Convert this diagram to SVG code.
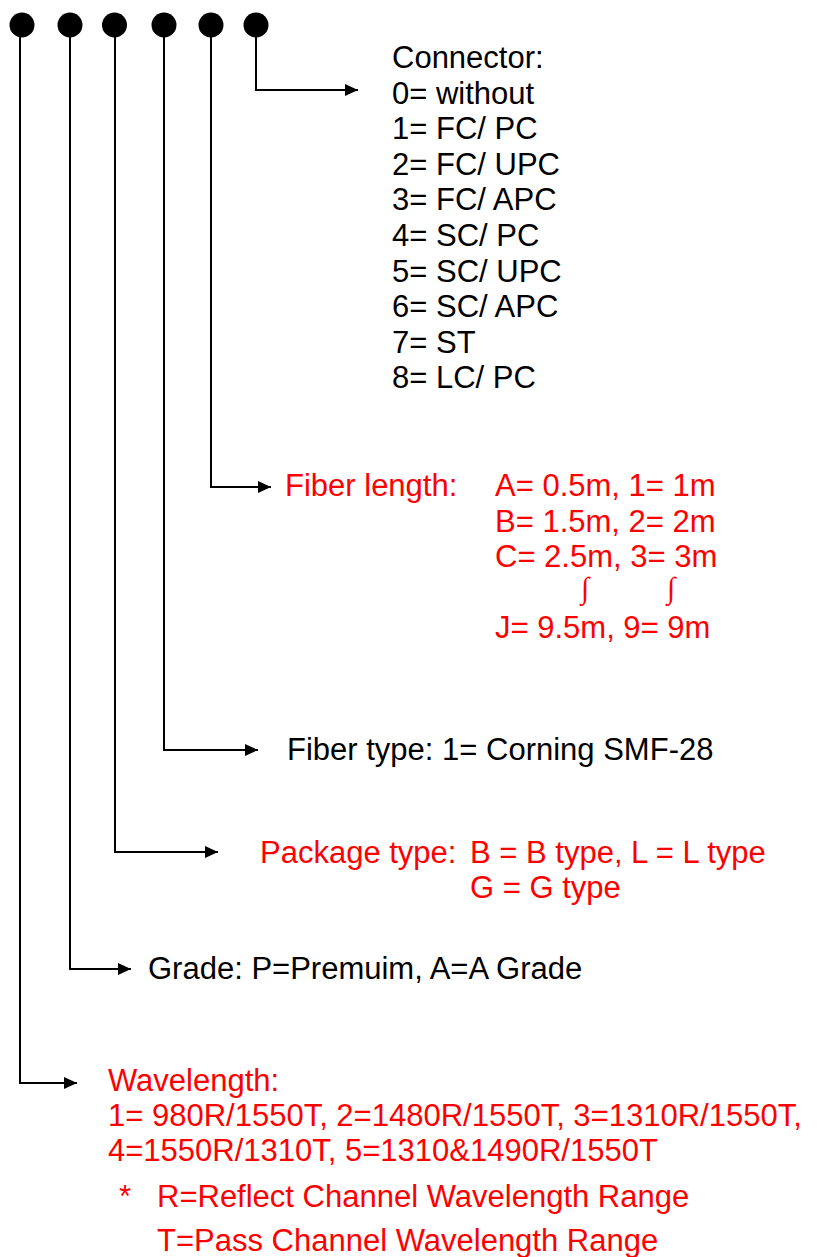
<svg xmlns="http://www.w3.org/2000/svg" width="817" height="1257" viewBox="0 0 817 1257">
<style>
text{font-family:"Liberation Sans",Arial,sans-serif;font-size:31px}
.k{fill:#000}
.r{fill:#ff0000}
.ln{fill:none;stroke:#000;stroke-width:2}
.dot{fill:#000}
.int{font-family:"Liberation Serif","DejaVu Serif",serif;font-size:30px;fill:#ff0000;text-anchor:middle}
</style>
<defs>
<marker id="ah" markerUnits="userSpaceOnUse" markerWidth="14" markerHeight="12" refX="13" refY="6" orient="auto">
<path d="M0,0 L13,6 L0,12 z" fill="#000"/>
</marker>
</defs>
<g id="dots">
<circle class="dot" cx="22" cy="25" r="12.5"/>
<circle class="dot" cx="70" cy="25" r="12.5"/>
<circle class="dot" cx="114.5" cy="25" r="12.5"/>
<circle class="dot" cx="164" cy="25" r="12.5"/>
<circle class="dot" cx="211" cy="25" r="12.5"/>
<circle class="dot" cx="256" cy="25" r="12.5"/>
</g>
<g id="connectors">
<path class="ln" d="M20,25 V1083 H77" marker-end="url(#ah)"/>
<path class="ln" d="M70,25 V969 H131" marker-end="url(#ah)"/>
<path class="ln" d="M115,25 V852 H218" marker-end="url(#ah)"/>
<path class="ln" d="M164,25 V750 H258" marker-end="url(#ah)"/>
<path class="ln" d="M211,25 V487 H271" marker-end="url(#ah)"/>
<path class="ln" d="M256,25 V90 H358" marker-end="url(#ah)"/>
</g>
<g id="connector">
<text class="k" x="392" y="68">Connector:</text>
<text class="k" x="392" y="103.6">0= without</text>
<text class="k" x="392" y="139.2">1= FC/ PC</text>
<text class="k" x="392" y="174.8">2= FC/ UPC</text>
<text class="k" x="392" y="210.4">3= FC/ APC</text>
<text class="k" x="392" y="246">4= SC/ PC</text>
<text class="k" x="392" y="281.6">5= SC/ UPC</text>
<text class="k" x="392" y="317.2">6= SC/ APC</text>
<text class="k" x="392" y="352.8">7= ST</text>
<text class="k" x="392" y="388.4">8= LC/ PC</text>
</g>
<g id="fiber-length">
<text class="r" x="285" y="496">Fiber length:</text>
<text class="r" x="495" y="496">A= 0.5m, 1= 1m</text>
<text class="r" x="495" y="531.5">B= 1.5m, 2= 2m</text>
<text class="r" x="495" y="567">C= 2.5m, 3= 3m</text>
<text class="int" x="585" y="598">∫</text>
<text class="int" x="671" y="598">∫</text>
<text class="r" x="495" y="638">J= 9.5m, 9= 9m</text>
</g>
<g id="fiber-type">
<text class="k" x="287" y="760">Fiber type: 1= Corning SMF-28</text>
</g>
<g id="package-type">
<text class="r" x="260" y="863">Package type:</text>
<text class="r" x="470" y="863">B = B type, L = L type</text>
<text class="r" x="470" y="898">G = G type</text>
</g>
<g id="grade">
<text class="k" x="148" y="979">Grade: P=Premuim, A=A Grade</text>
</g>
<g id="wavelength">
<text class="r" x="108" y="1091">Wavelength:</text>
<text class="r" x="108" y="1126">1= 980R/1550T, 2=1480R/1550T, 3=1310R/1550T,</text>
<text class="r" x="108" y="1161">4=1550R/1310T, 5=1310&amp;1490R/1550T</text>
<text class="r" x="119" y="1207">*</text>
<text class="r" x="157" y="1207">R=Reflect Channel Wavelength Range</text>
<text class="r" x="157" y="1251">T=Pass Channel Wavelength Range</text>
</g>
</svg>
